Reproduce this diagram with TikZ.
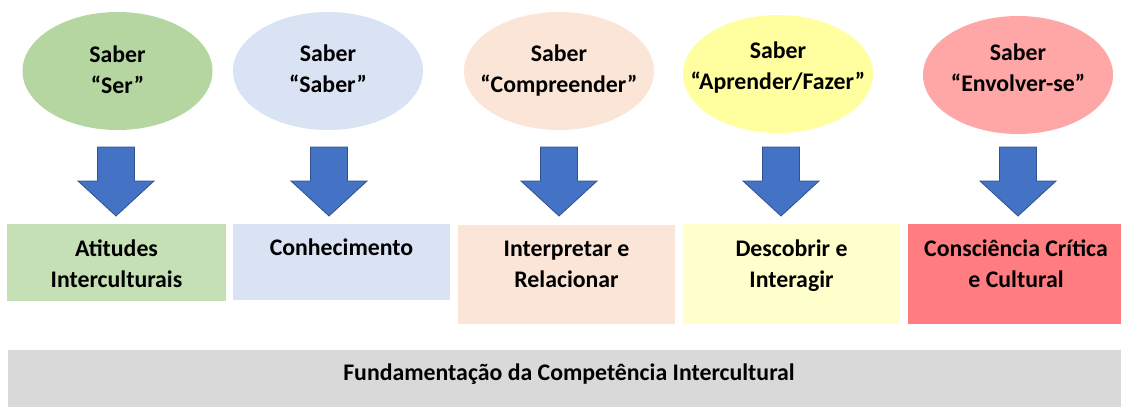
\documentclass[tikz,border=0pt]{standalone}
\usepackage{fontspec}
\setmainfont{Carlito}
\usetikzlibrary{shapes.geometric}
\definecolor{ovgreen}{HTML}{B5D6A0}
\definecolor{bxgreen}{HTML}{C5E0B4}
\definecolor{ovblue}{HTML}{DAE3F3}
\definecolor{bxblue}{HTML}{DAE3F3}
\definecolor{ovpeach}{HTML}{FBE5D6}
\definecolor{bxpeach}{HTML}{FBE5D6}
\definecolor{ovyellow}{HTML}{FFFF9F}
\definecolor{bxyellow}{HTML}{FFFFCC}
\definecolor{ovred}{HTML}{FFA6A6}
\definecolor{bxred}{HTML}{FF7C80}
\definecolor{bargray}{HTML}{D9D9D9}
\definecolor{arrowblue}{HTML}{4472C4}
\definecolor{arrowedge}{HTML}{2F528F}
\begin{document}
\begin{tikzpicture}[x=1pt,y=-1pt,
  oval/.style={ellipse, draw=none, minimum width=190pt, minimum height=118pt, inner sep=0pt},
  lbl/.style={font=\fontsize{23.8}{31}\selectfont\bfseries, align=center, inner sep=0pt, text=black, anchor=base},
  tile/.style={rectangle, draw=none, inner sep=0pt, anchor=north west},
  downarrow/.pic={\path[fill=arrowblue, draw=arrowedge, line width=0.8pt, line join=miter]
     (-18.5,0) -- (18.5,0) -- (18.5,34) -- (38,34) -- (0,69) -- (-38,34) -- (-18.5,34) -- cycle;}
]
\useasboundingbox (0,0) rectangle (1121,407);
% ovals
\node[oval, fill=ovgreen]  (e1) at (117.5,71) {};
\node[oval, fill=ovblue]   (e2) at (328,71) {};
\node[oval, fill=ovpeach]  (e3) at (559,71) {};
\node[oval, fill=ovyellow] (e4) at (778,74) {};
\node[oval, fill=ovred]    (e5) at (1018,75) {};
\node[lbl] (s1) at (117.5,93) {Saber\\“Ser”};
\node[lbl] (s2) at (328,92) {Saber\\“Saber”};
\node[lbl] (s3) at (559,92) {Saber\\“Compreender”};
\node[lbl] (s4) at (778,89) {Saber\\“Aprender/Fazer”};
\node[lbl] (s5) at (1018,91) {Saber\\“Envolver-se”};
% arrows
\pic (a1) at (116,147) {downarrow};
\pic (a2) at (329,147) {downarrow};
\pic (a3) at (559,147) {downarrow};
\pic (a4) at (781,147) {downarrow};
\pic (a5) at (1018,147) {downarrow};
% tiles
\node[tile, fill=bxgreen,  minimum width=219pt, minimum height=77pt] (b1) at (7,224) {};
\node[tile, fill=bxblue,   minimum width=217pt, minimum height=76pt] (b2) at (233,224) {};
\node[tile, fill=bxpeach,  minimum width=217pt, minimum height=99pt] (b3) at (458,225) {};
\node[tile, fill=bxyellow, minimum width=217pt, minimum height=100pt] (b4) at (683,224) {};
\node[tile, fill=bxred,    minimum width=213pt, minimum height=100pt] (b5) at (908,224) {};
\node[lbl] (t1) at (116.5,287) {Atitudes\\Interculturais};
\node[lbl] (t2) at (341.5,255) {Conhecimento};
\node[lbl] (t3) at (566.5,287) {Interpretar e\\Relacionar};
\node[lbl] (t4) at (791.5,287) {Descobrir e\\Interagir};
\node[lbl] (t5) at (1016,287) {Consciência Crítica\\e Cultural};
% bar
\node[tile, fill=bargray, minimum width=1113pt, minimum height=57pt] (bar) at (8,350) {};
\node[lbl] (tb) at (569,380) {Fundamentação da Competência Intercultural};
\end{tikzpicture}
\end{document}
